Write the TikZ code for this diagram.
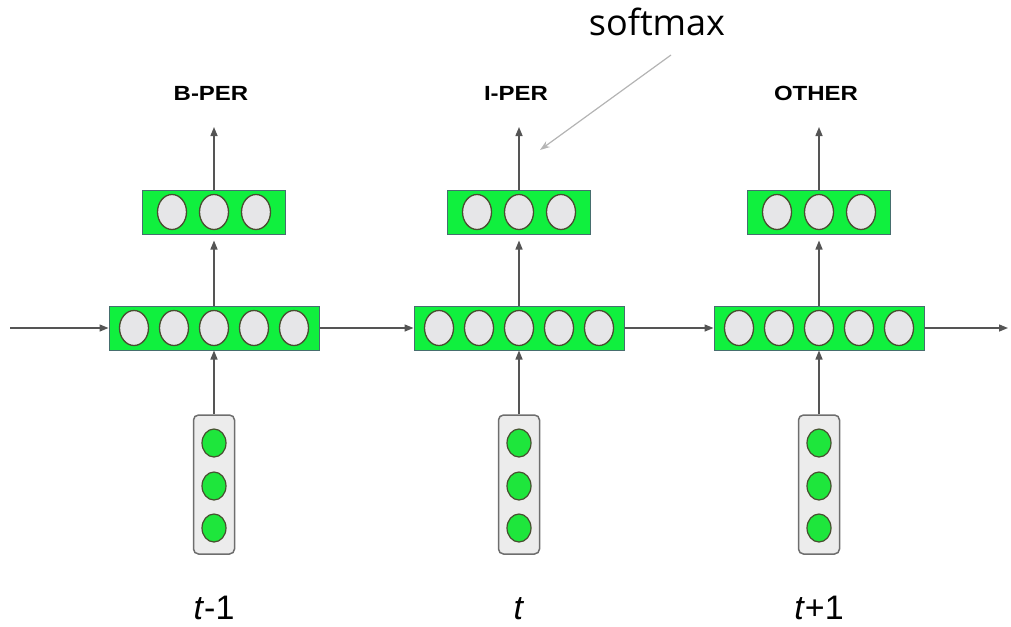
\documentclass[tikz,border=0pt]{standalone}
\usepackage{fontspec}
\setmainfont{Liberation Sans}
\newfontfamily\notefont{Open Sans}
\usetikzlibrary{shapes.geometric,arrows.meta}

\definecolor{boxgreen}{RGB}{16,240,62}
\definecolor{boxedge}{RGB}{70,110,110}
\definecolor{unitgray}{RGB}{230,230,232}
\definecolor{unitedge}{RGB}{72,78,48}
\definecolor{inputgray}{RGB}{236,236,236}
\definecolor{inputedge}{RGB}{110,110,110}
\definecolor{unitgreen}{RGB}{30,230,60}
\definecolor{flowgray}{RGB}{85,85,85}
\definecolor{notegray}{RGB}{180,180,180}

\tikzset{
  hiddenbox/.style={draw=boxedge, fill=boxgreen, line width=1pt,
    minimum width=210pt, minimum height=44pt, inner sep=0pt},
  outbox/.style={hiddenbox, minimum width=143pt},
  unit/.style={ellipse, draw=unitedge, fill=unitgray, line width=1.3pt,
    minimum width=29pt, minimum height=35pt, inner sep=0pt},
  inbox/.style={draw=inputedge, fill=inputgray, line width=1.5pt,
    rounded corners=5pt, minimum width=41pt, minimum height=139pt, inner sep=0pt},
  inunit/.style={ellipse, draw=unitedge, fill=unitgreen, line width=1.2pt,
    minimum width=24pt, minimum height=28pt, inner sep=0pt},
  flow/.style={draw=flowgray, line width=1.4pt,
    -{Triangle[length=9pt,width=7pt]}},
  tag/.style={font=\bfseries\fontsize{20.5}{22}\selectfont, inner sep=0pt, anchor=base},
  steplabel/.style={font=\fontsize{34}{36}\selectfont, inner sep=0pt, anchor=base},
}

\begin{document}
\begin{tikzpicture}[x=1pt, y=-1pt]
  \useasboundingbox (0,0) rectangle (1011,626);

  % one column per time step: index / centre x / output tag / step label
  \foreach \i/\cx/\tagtext/\steptext in
      {1/214/B-PER/{\textit{t}-1}, 2/519/I-PER/{\textit{t}}, 3/819/OTHER/{\textit{t}+1}} {
    % hidden layer
    \node[hiddenbox] (h\i) at (\cx,328) {};
    \foreach \k in {-2,...,2}
      \node[unit] (h\i u\k) at (\cx+\k*40,328) {};
    % output layer
    \node[outbox] (o\i) at (\cx,212) {};
    \foreach \k in {-1,0,1}
      \node[unit] (o\i u\k) at (\cx+\k*42,212) {};
    % input vector
    \node[inbox] (x\i) at (\cx,484.5) {};
    \foreach \k/\yy in {1/443,2/486,3/528}
      \node[inunit] (x\i u\k) at (\cx,\yy) {};
    % output tag and time step
    \node[tag] (y\i) at (\cx-3,100) {\scalebox{1.17}[1]{\tagtext}};
    \coordinate (yb\i) at (\cx,127);
    \node[steplabel] (s\i) at (\cx,619) {\steptext};
    % vertical connections
    \draw[flow] (x\i.north) -- (h\i.south);
    \draw[flow] (h\i.north) -- ([yshift=-6pt]o\i.south);
    \draw[flow] (o\i.north) -- (yb\i);
  }

  % recurrent connections
  \coordinate (start) at (10,328);
  \coordinate (finish) at (1008,328);
  \draw[flow] (start) -- (h1.west);
  \draw[flow] (h1.east) -- (h2.west);
  \draw[flow] (h2.east) -- (h3.west);
  \draw[flow] (h3.east) -- (finish);

  % softmax annotation
  \node[inner sep=0pt, anchor=base, font=\notefont\fontsize{36}{40}\selectfont]
    (sm) at (657,36) {softmax};
  \coordinate (smtail) at (671,55);
  \coordinate (smtip) at (540,150);
  \draw[draw=notegray, line width=1.2pt, -{Stealth[length=10pt,width=7pt]}]
    (smtail) -- (smtip);
\end{tikzpicture}
\end{document}
